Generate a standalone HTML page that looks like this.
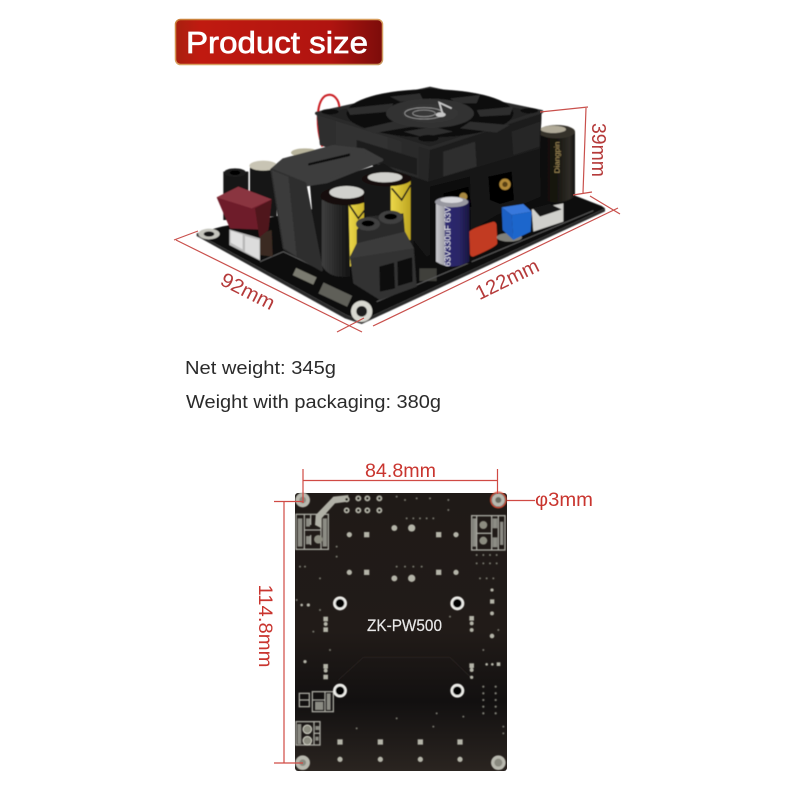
<!DOCTYPE html>
<html><head><meta charset="utf-8"><style>
html,body{margin:0;padding:0;background:#fff}
svg{display:block}
text{font-family:"Liberation Sans",sans-serif}
</style></head><body>
<svg width="800" height="800" viewBox="0 0 800 800" xmlns="http://www.w3.org/2000/svg">
<defs>
<linearGradient id="ban" x1="0" x2="1" y1="0" y2="0"><stop offset="0" stop-color="#a8200f"/><stop offset=".12" stop-color="#c01a10"/><stop offset=".75" stop-color="#b01410"/><stop offset="1" stop-color="#7c0c0a"/></linearGradient>
<linearGradient id="gold" x1="0" x2="1" y1="0" y2="1"><stop offset="0" stop-color="#c9803a"/><stop offset=".5" stop-color="#d8a060"/><stop offset="1" stop-color="#c89860"/></linearGradient>
<linearGradient id="cap" x1="0" x2="1" y1="0" y2="0"><stop offset="0" stop-color="#3e3e3e"/><stop offset=".45" stop-color="#2a2a2a"/><stop offset="1" stop-color="#0c0c0c"/></linearGradient>
<linearGradient id="capr" x1="0" x2="1" y1="0" y2="0"><stop offset="0" stop-color="#0c0b08"/><stop offset=".5" stop-color="#171510"/><stop offset=".85" stop-color="#2e2c26"/><stop offset="1" stop-color="#121210"/></linearGradient>
<linearGradient id="yel" x1="0" x2="1" y1="0" y2="0"><stop offset="0" stop-color="#ecd84a"/><stop offset="1" stop-color="#bda420"/></linearGradient>
<linearGradient id="pur" x1="0" x2="1" y1="0" y2="0"><stop offset="0" stop-color="#c8c8cc"/><stop offset=".25" stop-color="#a0a0a8"/><stop offset=".29" stop-color="#2e2a72"/><stop offset=".7" stop-color="#2a2666"/><stop offset="1" stop-color="#181640"/></linearGradient>
<linearGradient id="fan" x1="0" x2="1" y1="0" y2="0"><stop offset="0" stop-color="#2e2e2e"/><stop offset=".5" stop-color="#333"/><stop offset="1" stop-color="#262626"/></linearGradient>
<linearGradient id="pcb2" x1="0" x2="0" y1="0" y2="1"><stop offset="0" stop-color="#1f1a17"/><stop offset=".5" stop-color="#211b18"/><stop offset=".75" stop-color="#121010"/><stop offset="1" stop-color="#2a2420"/></linearGradient>
<radialGradient id="hub"><stop offset="0" stop-color="#3a3a3a"/><stop offset="1" stop-color="#303030"/></radialGradient>
<filter id="soft"><feGaussianBlur stdDeviation="1.4"/></filter>
</defs>
<rect width="800" height="800" fill="#fff"/>

<!-- banner -->
<rect x="175.5" y="19.5" width="207" height="45" rx="5" fill="url(#ban)" stroke="url(#gold)" stroke-width="1.5"/>
<text x="186" y="53" font-size="31" fill="#fff" stroke="#fff" stroke-width=".7" textLength="182" lengthAdjust="spacingAndGlyphs">Product size</text>

<!-- top board (coords in 3x zoom space) -->
<g transform="translate(160,0) scale(.33333)" filter="url(#soft)">
 <!-- red wire -->
 <path d="M487 440 C470 390 465 310 495 288 C520 275 540 300 538 330" fill="none" stroke="#c8141c" stroke-width="6"/>
 <!-- pcb -->
 <polygon points="110,700 185,680 600,600 1240,585 1325,618 1335,625 605,962 560,945" fill="#101010"/>
 <polygon points="110,700 560,945 605,962 1335,625 1335,634 605,972 555,955 110,708" fill="#2a2a2a"/>
 <circle cx="605" cy="934" r="32" fill="#d8d8d0"/><circle cx="605" cy="934" r="16" fill="#1c1c1c"/>
 <ellipse cx="147" cy="702" rx="32" ry="16" fill="#c4c4bc"/><ellipse cx="147" cy="702" rx="16" ry="8" fill="#151515"/>
 <g fill="#7a7a70">
  <rect x="400" y="815" width="68" height="24" transform="rotate(25 430 828)"/>
  <rect x="480" y="865" width="95" height="36" transform="rotate(25 525 880)" opacity=".75"/>
  <rect x="778" y="805" width="52" height="38" opacity=".45"/>
 </g>
 <path d="M300 785 L370 755 L475 805 M650 905 L1300 632" stroke="#5a5a5a" stroke-width="3" fill="none"/>

 <!-- right cap -->
 <path d="M1135 395 V590 Q1190 625 1245 590 V395 Z" fill="url(#capr)"/>
 <ellipse cx="1190" cy="395" rx="55" ry="20" fill="#35332c"/>
 <ellipse cx="1180" cy="388" rx="38" ry="11" fill="#b0aa98"/>
 <text transform="translate(1198,520) rotate(-90)" font-size="22" fill="#a8925a" textLength="95" lengthAdjust="spacingAndGlyphs">Diangpin</text>
 <!-- connector -->
 <polygon points="1115,628 1210,610 1210,665 1120,695" fill="#d0d0cc"/>
 <polygon points="1118,625 1170,612 1205,628 1140,650" fill="#161616"/>
 <!-- black body under fan -->
 <polygon points="600,440 805,520 760,570 640,500" fill="#141414"/>
 <polygon points="740,545 1140,445 1142,590 1010,645 800,770 760,720" fill="#141414"/>
 <polygon points="810,560 930,530 935,790 810,790" fill="#0d0d0d"/>
 <polygon points="985,530 1055,515 1062,600 1020,612 990,600" fill="#050505"/>
 <polygon points="850,580 925,560 935,620 850,640" fill="#050505"/>
 <circle cx="1035" cy="553" r="17" fill="#b08838"/><circle cx="1035" cy="553" r="8" fill="#5a4218"/>
 <circle cx="910" cy="590" r="12" fill="#a88840"/>
 <!-- fan sides -->
 <polygon points="470,340 810,445 1145,335 1140,445 805,545 480,435" fill="#222"/>
 <polygon points="470,340 810,445 805,545 480,435" fill="url(#fan)"/>
 <polygon points="810,445 1145,335 1140,445 805,545" fill="#1c1c1c"/>
 <polygon points="850,455 945,425 950,500 850,530" fill="#2d2d2d"/>
 <polygon points="1055,395 1140,365 1138,440 1060,465" fill="#262626"/>
 <polygon points="590,420 770,475 770,525 590,470" fill="#1c1c1c"/>
 <!-- fan top -->
 <path d="M470 340 L810 265 L1145 335 L810 445 Z" fill="#242424" stroke="#2a2a2a" stroke-width="10" stroke-linejoin="round"/>
 <ellipse cx="810" cy="340" rx="250" ry="72" fill="#090909"/>
 <g fill="#2e2e2e">
  <polygon points="560,325 700,310 690,335 570,345"/>
  <polygon points="610,385 720,360 770,378 640,400"/>
  <polygon points="730,395 820,380 880,395 790,412"/>
  <polygon points="930,365 1050,375 1010,398 900,385"/>
  <polygon points="950,330 1060,320 1050,345 960,350"/>
  <polygon points="870,295 960,285 950,310 890,310"/>
  <polygon points="690,290 780,280 790,300 720,305"/>
 </g>
 <ellipse cx="810" cy="340" rx="132" ry="44" fill="url(#hub)"/>
 <ellipse cx="792" cy="340" rx="58" ry="17" fill="none" stroke="#999" stroke-width="2.500"/>
 <ellipse cx="792" cy="340" rx="34" ry="10" fill="none" stroke="#999" stroke-width="2.500"/>
 <path d="M848 342 L838 308 L875 325" stroke="#c8c8c8" stroke-width="5" fill="none"/><ellipse cx="842" cy="344" rx="15" ry="7" fill="#c8c8c8"/>
 <ellipse cx="805" cy="415" rx="30" ry="10" fill="#0a0a0a"/>
 <ellipse cx="510" cy="335" rx="26" ry="8" fill="#0a0a0a"/>
 <ellipse cx="1108" cy="332" rx="26" ry="8" fill="#0a0a0a"/>
 <ellipse cx="812" cy="271" rx="24" ry="6" fill="#0a0a0a"/>

 <!-- back cap tops -->
 <path d="M270 500 V650 H350 V500 Z" fill="#151515"/>
 <ellipse cx="310" cy="497" rx="42" ry="15" fill="#c8c4b4"/>
 <ellipse cx="435" cy="458" rx="42" ry="13" fill="#b8b49c"/>
 <!-- left terminal -->
 <path d="M190 515 V660 H265 V515 Z" fill="#121212"/>
 <ellipse cx="225" cy="518" rx="33" ry="13" fill="#1e1e1e"/><ellipse cx="225" cy="518" rx="16" ry="7" fill="#000"/>
 <!-- inductor -->
 <path d="M450 555 L670 490 L760 545 L760 740 L470 800 Z" fill="#141414"/>
 <path d="M335 510 L370 480 L520 440 L610 450 L665 480 L500 545 L435 555 Z" fill="#3c3c3c" stroke="#3c3c3c" stroke-width="10" stroke-linejoin="round"/>
 <polygon points="445,490 570,460 570,468 445,497" fill="#0c0c0c"/>
 <path d="M335 510 L435 550 L485 810 L372 745 Z" fill="#2f2f2f" stroke="#2f2f2f" stroke-width="8" stroke-linejoin="round"/>
 <path d="M335 510 L385 530 L410 770 L372 745 Z" fill="#3a3a3a"/>
 <!-- fuse -->
 <polygon points="208,688 300,715 300,782 208,735" fill="#b8b8b8"/>
 <polygon points="255,708 298,720 298,778 255,755" fill="#dcdcdc"/>
 <polygon points="212,692 248,704 248,748 212,728" fill="#e0e0e0"/>
 <polygon points="300,700 335,690 338,770 300,765" fill="#3a2a24"/>
 <polygon points="170,592 235,560 335,598 325,690 210,685" fill="#6e1e2a"/>
 <polygon points="170,592 235,560 335,598 275,625" fill="#8a3440"/>
 <polygon points="285,625 335,598 325,690 298,712" fill="#50161f"/>
 <!-- yellow caps -->
 <path d="M485 600 V795 Q505 835 560 830 L580 830 V600 Z" fill="url(#cap)"/>
 <path d="M565 590 H630 V770 L570 800 Z" fill="url(#yel)"/>
 <path d="M568 615 L595 655 L630 610" fill="none" stroke="#1a1a1a" stroke-width="5"/>
 <ellipse cx="558" cy="588" rx="76" ry="28" fill="#141008"/>
 <ellipse cx="560" cy="577" rx="52" ry="19" fill="#d0d0cc"/>
 <path d="M612 545 V700 H752 V545 Z" fill="#141414"/>
 <path d="M692 540 H752 V720 H692 Z" fill="url(#yel)"/>
 <path d="M695 565 L725 600 L752 555" fill="none" stroke="#1a1a1a" stroke-width="5"/>
 <ellipse cx="680" cy="537" rx="74" ry="22" fill="#141008"/>
 <ellipse cx="675" cy="532" rx="52" ry="15" fill="#d0d0cc"/>
 <!-- terminal block -->
 <polygon points="590,690 620,650 730,640 735,700 762,745 770,860 660,900 580,850 570,770 590,730" fill="#2c2c2c"/>
 <polygon points="570,770 760,745 770,860 660,900 580,850" fill="#333"/>
 <polygon points="590,730 735,695 762,745 570,775" fill="#3a3a3a"/>
 <ellipse cx="624" cy="672" rx="36" ry="20" fill="#404040"/><ellipse cx="624" cy="670" rx="19" ry="9" fill="#000"/>
 <ellipse cx="692" cy="652" rx="36" ry="20" fill="#404040"/><ellipse cx="692" cy="650" rx="19" ry="9" fill="#000"/>
 <polygon points="658,800 702,788 705,865 660,875" fill="#080808"/>
 <polygon points="712,785 756,772 758,845 714,858" fill="#080808"/>
 <!-- purple cap -->
 <path d="M828 610 V785 Q875 815 928 785 V600 Z" fill="url(#pur)"/>
 <ellipse cx="875" cy="606" rx="50" ry="16" fill="#9898a0"/>
 <ellipse cx="875" cy="600" rx="34" ry="9" fill="#d8d8dc"/>
 <text transform="translate(872,800) rotate(-90)" font-size="24" fill="#e8e8f0" textLength="180" lengthAdjust="spacingAndGlyphs">63V330uF 63V</text>
 <!-- red cap -->
 <path d="M928 695 Q935 685 1000 665 Q1010 665 1010 680 L1012 730 Q1010 740 940 770 Q930 770 930 760 Z" fill="#c23a20"/>
 <!-- blue cap -->
 <ellipse cx="1048" cy="712" rx="38" ry="13" fill="#b0b0a8" opacity=".7"/>
 <polygon points="1025,622 1090,612 1115,635 1055,645" fill="#3878dc"/>
 <polygon points="1025,622 1055,645 1060,720 1028,690" fill="#1c60c4"/>
 <polygon points="1055,645 1115,635 1112,695 1060,720" fill="#1e66cc"/>
</g>

<!-- dim lines top -->
<g stroke="#c9504c" stroke-width="1.2" fill="none">
 <path d="M174 240 L198 231 M176 240 L362 332 M337 332 L364 318 M373 326 L618 208 M590 196 L620 214"/>
 <path d="M540 112 L588 107 M586 108 L583 193 M573 195 L592 192"/>
</g>
<g fill="#b53a3a">
 <text transform="translate(248,291) rotate(27)" text-anchor="middle" y="7" font-size="20" textLength="58" lengthAdjust="spacingAndGlyphs">92mm</text>
 <text transform="translate(507,279) rotate(-26)" text-anchor="middle" y="7" font-size="20" textLength="68" lengthAdjust="spacingAndGlyphs">122mm</text>
 <text transform="translate(599,150) rotate(90)" text-anchor="middle" y="7" font-size="20" textLength="54" lengthAdjust="spacingAndGlyphs">39mm</text>
</g>

<!-- weights -->
<g fill="#2a2a2a" font-size="18">
 <text x="185" y="374" textLength="151" lengthAdjust="spacingAndGlyphs">Net weight: 345g</text>
 <text x="186" y="408" textLength="255" lengthAdjust="spacingAndGlyphs">Weight with packaging: 380g</text>
</g>

<!-- bottom board -->
<rect x="295" y="493" width="212" height="278" rx="3" fill="url(#pcb2)"/>
<g transform="translate(250,450) scale(.33333)" filter="url(#soft)">
 <!-- corner pads -->
 <circle cx="158" cy="150" r="22" fill="#b8b8ae"/><circle cx="158" cy="150" r="10" fill="#8a8a80"/>
 <circle cx="158" cy="938" r="22" fill="#b8b8ae"/><circle cx="158" cy="938" r="10" fill="#8a8a80"/>
 <circle cx="745" cy="150" r="20" fill="#b8b8ae"/><circle cx="745" cy="150" r="9" fill="#6a6a60"/>
 <circle cx="745" cy="150" r="23" fill="none" stroke="#d84a30" stroke-width="4"/>
 <circle cx="745" cy="938" r="22" fill="#b8b8ae"/><circle cx="745" cy="938" r="12" fill="#8a8a80"/>
 <!-- silk boxes -->
 <g fill="none" stroke="#a8a8a0" stroke-width="4">
  <rect x="138" y="193" width="97" height="105"/><path d="M163 193 V298 M163 240 H213 M213 193 V298 M182 193 V225 M182 255 V285"/>
  <rect x="665" y="197" width="100" height="103"/><path d="M680 197 V300 M725 197 V300 M680 250 H725 M745 197 V300"/>
  <rect x="187" y="725" width="63" height="60"/><path d="M187 750 H225 M225 725 V785"/>
  <rect x="148" y="730" width="30" height="40"/><path d="M148 750 H178"/>
  <rect x="138" y="815" width="72" height="70"/><path d="M192 815 V885 M192 850 H210"/>
 </g>
 <g fill="#8c8c84">
  <rect x="143" y="205" width="14" height="85"/><rect x="168" y="205" width="12" height="25"/><rect x="168" y="258" width="12" height="25"/><rect x="218" y="205" width="13" height="85"/>
  <rect x="668" y="205" width="10" height="85"/><rect x="728" y="205" width="14" height="30"/><rect x="728" y="262" width="14" height="30"/><rect x="750" y="215" width="10" height="70"/>
  <rect x="142" y="822" width="12" height="60"/><rect x="230" y="730" width="12" height="50"/><rect x="195" y="755" width="25" height="25"/>
  <rect x="196" y="828" width="12" height="12"/><rect x="196" y="860" width="10" height="12"/>
 </g>
 <circle cx="172" cy="838" r="13" fill="#8c8c80" stroke="#d0d0c4" stroke-width="3"/><circle cx="172" cy="872" r="13" fill="#8c8c80" stroke="#d0d0c4" stroke-width="3"/>
 <circle cx="205" cy="268" r="13" fill="#8c8c80"/><circle cx="700" cy="225" r="12" fill="#8c8c80"/><circle cx="700" cy="272" r="12" fill="#8c8c80"/>
 <!-- diag trace -->
 <polygon points="197,195 250,140 295,135 295,155 255,160 215,205 215,235 195,225" fill="#b0b0a6"/>
 <!-- large holes -->
 <g fill="#000" stroke="#ecece8" stroke-width="8">
  <circle cx="270" cy="460" r="17"/><circle cx="622" cy="460" r="17"/><circle cx="270" cy="722" r="17"/><circle cx="622" cy="722" r="17"/>
 </g>
 <!-- vias -->
 <g fill="#b4b4a8">
  <circle cx="290" cy="148" r="9"/><circle cx="325" cy="145" r="9"/><circle cx="352" cy="145" r="9"/><circle cx="388" cy="145" r="9"/>
  <circle cx="290" cy="181" r="9"/><circle cx="325" cy="181" r="9"/><circle cx="352" cy="181" r="9"/><circle cx="388" cy="181" r="9"/>
  <circle cx="485" cy="234" r="11"/><circle cx="485" cy="385" r="11"/><circle cx="433" cy="234" r="9"/><circle cx="433" cy="385" r="9"/>
  <circle cx="298" cy="254" r="8"/><circle cx="618" cy="254" r="8"/><circle cx="298" cy="367" r="8"/><circle cx="618" cy="367" r="8"/>
  <rect x="342" y="246" width="16" height="16"/><rect x="558" y="246" width="16" height="16"/><rect x="342" y="359" width="16" height="16"/><rect x="558" y="359" width="16" height="16"/>
  <rect x="262" y="868" width="16" height="16"/><rect x="383" y="868" width="16" height="16"/><rect x="503" y="868" width="16" height="16"/><rect x="622" y="868" width="16" height="16"/>
  <circle cx="270" cy="928" r="8"/><circle cx="391" cy="928" r="8"/><circle cx="511" cy="928" r="8"/><circle cx="630" cy="928" r="8"/>
  <rect x="220" y="500" width="14" height="14"/><circle cx="227" cy="522" r="6"/><rect x="220" y="532" width="14" height="14"/>
  <rect x="220" y="642" width="14" height="14"/><circle cx="227" cy="662" r="6"/><rect x="220" y="674" width="14" height="14"/>
  <rect x="658" y="498" width="14" height="14"/><circle cx="665" cy="520" r="6"/><circle cx="665" cy="540" r="6"/>
  <rect x="658" y="640" width="14" height="14"/><circle cx="665" cy="660" r="6"/><circle cx="665" cy="682" r="5"/>
  <circle cx="726" cy="420" r="5"/><rect x="720" y="448" width="13" height="13"/><circle cx="726" cy="490" r="6"/><circle cx="726" cy="558" r="7"/>
  <circle cx="710" cy="643" r="4"/><circle cx="727" cy="643" r="4"/><rect x="740" y="637" width="11" height="11"/>
  <circle cx="165" cy="635" r="5"/><circle cx="175" cy="465" r="5"/><circle cx="155" cy="465" r="4"/>
 </g>
 <g fill="#1c1a16">
  <circle cx="290" cy="148" r="4"/><circle cx="325" cy="145" r="4"/><circle cx="352" cy="145" r="4"/><circle cx="388" cy="145" r="4"/>
  <circle cx="290" cy="181" r="4"/><circle cx="325" cy="181" r="4"/><circle cx="352" cy="181" r="4"/><circle cx="388" cy="181" r="4"/>
 </g>
 <g fill="#7c7c72">
  <circle cx="700" cy="710" r="3.500"/><circle cx="700" cy="730" r="3.500"/><circle cx="700" cy="750" r="3.500"/><circle cx="700" cy="770" r="3.500"/><circle cx="700" cy="790" r="3.500"/>
  <circle cx="737" cy="710" r="3.500"/><circle cx="737" cy="730" r="3.500"/><circle cx="737" cy="750" r="3.500"/><circle cx="737" cy="770" r="3.500"/><circle cx="737" cy="790" r="3.500"/>
  <circle cx="680" cy="315" r="3"/><circle cx="700" cy="315" r="3"/><circle cx="720" cy="315" r="3"/><circle cx="740" cy="315" r="3"/>
  <circle cx="680" cy="340" r="3"/><circle cx="700" cy="340" r="3"/><circle cx="720" cy="340" r="3"/><circle cx="740" cy="340" r="3"/>
  <circle cx="690" cy="385" r="3"/><circle cx="710" cy="385" r="3"/><circle cx="730" cy="385" r="3"/>
  <circle cx="470" cy="205" r="3"/><circle cx="490" cy="205" r="3"/><circle cx="510" cy="205" r="3"/><circle cx="530" cy="205" r="3"/><circle cx="550" cy="205" r="3"/>
  <circle cx="440" cy="350" r="3"/><circle cx="465" cy="350" r="3"/><circle cx="490" cy="350" r="3"/><circle cx="515" cy="350" r="3"/>
  <circle cx="440" cy="140" r="3"/><circle cx="465" cy="150" r="3"/><circle cx="500" cy="145" r="3"/><circle cx="540" cy="145" r="3"/><circle cx="595" cy="150" r="3"/><circle cx="595" cy="180" r="3"/>
  <circle cx="150" cy="350" r="3"/><circle cx="165" cy="350" r="3"/><circle cx="210" cy="385" r="3"/><circle cx="260" cy="290" r="3"/><circle cx="260" cy="320" r="3"/>
  <circle cx="320" cy="835" r="3"/><circle cx="440" cy="805" r="3"/><circle cx="550" cy="830" r="3"/><circle cx="640" cy="800" r="3"/>
  <circle cx="140" cy="450" r="3"/><circle cx="210" cy="480" r="3"/><circle cx="190" cy="545" r="3"/><circle cx="240" cy="600" r="3"/>
  <circle cx="600" cy="500" r="3"/><circle cx="700" cy="600" r="3"/><circle cx="745" cy="540" r="3"/><circle cx="560" cy="790" r="3"/><circle cx="760" cy="830" r="3"/><circle cx="760" cy="850" r="3"/>
 </g>
 <path d="M265 690 L340 622 H600 L660 680" fill="none" stroke="#2e2a26" stroke-width="2"/>
</g>
<text x="367" y="631" font-size="17" fill="#e8e8e8" stroke="#e8e8e8" stroke-width=".2" textLength="75" lengthAdjust="spacingAndGlyphs">ZK-PW500</text>

<!-- dim lines bottom -->
<g stroke="#d04a44" stroke-width="1.2" fill="none">
 <path d="M303 469 V503 M497.500 469 V494 M303 480.500 H497.500"/>
 <path d="M274 501.500 H303 M284 502 V763 M274 763 H303"/>
 <path d="M507 500.500 H535"/>
</g>
<g fill="#c9352f">
 <text x="365" y="477" font-size="19" textLength="71" lengthAdjust="spacingAndGlyphs">84.8mm</text>
 <text x="535" y="506" font-size="19" textLength="58" lengthAdjust="spacingAndGlyphs">φ3mm</text>
 <text transform="translate(266,626) rotate(90)" text-anchor="middle" y="7" font-size="19" textLength="83" lengthAdjust="spacingAndGlyphs">114.8mm</text>
</g>
</svg>
</body></html>
